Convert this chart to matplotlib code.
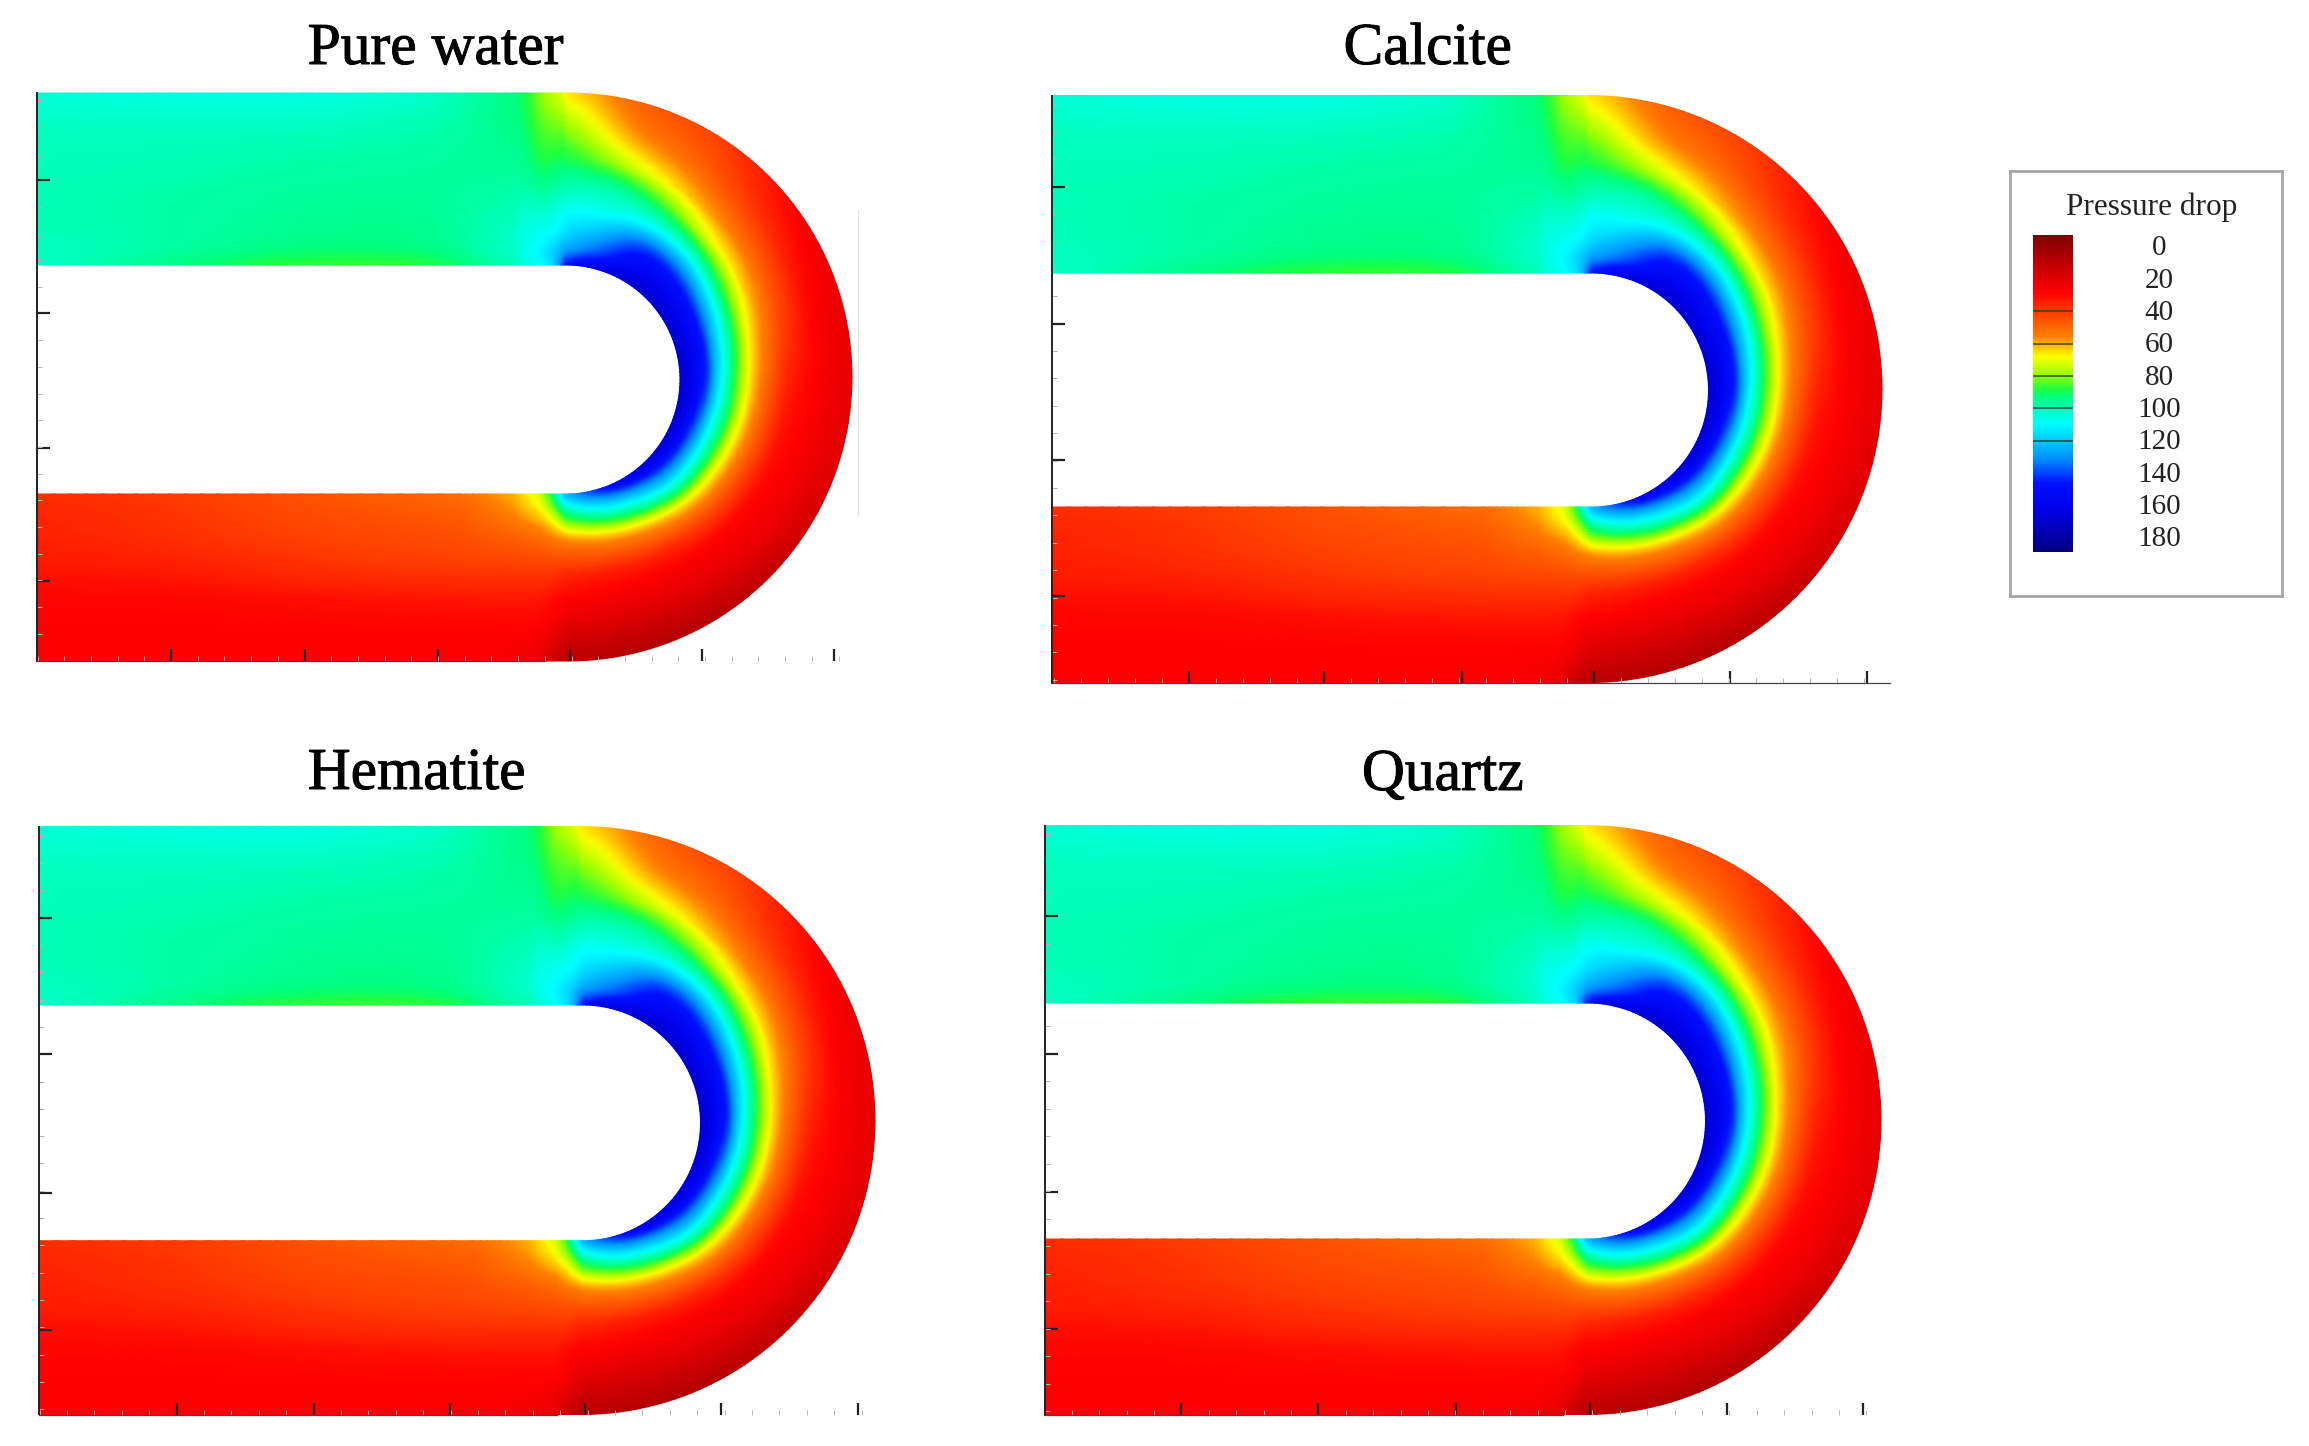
import numpy as np
import matplotlib
matplotlib.use("Agg")
import matplotlib.pyplot as plt
import matplotlib.patheffects as pe
from matplotlib.colors import LinearSegmentedColormap, Normalize
from matplotlib.ticker import AutoMinorLocator

W, H = 2309, 1446
plt.rcParams['font.family'] = ['Liberation Serif', 'DejaVu Serif']

# ---- values ----
panel_names = ["Pure water", "Calcite", "Hematite", "Quartz"]
legend_title = "Pressure drop"
legend_ticks = [0, 20, 40, 60, 80, 100, 120, 140, 160, 180]
legend_lines = [40, 60, 80, 100, 120]

# across-channel rows (0 inner wall, 1 outer wall)
rows_n = [0, .08, .16, .22, .28, .34, .42, .5, .62, .8, 1]
# stations along the channel: top leg (-1..0), bend (0..1), bottom leg (1..2)
top_frac = [0, .25, .5, .75, .9, .92, .95, .98]
bend_deg = [90, 75, 60, 45, 30, 15, 0, -15, -30, -45, -60, -75, -90]
bot_frac = [.975, .95, .9, .8, .5, .25, 0]

top_leg = [
    [103, 102, 101, 100, 100, 100, 100, 100, 100, 101, 104],
    [94, 97, 98, 98, 98, 98, 98, 99, 100, 101, 106],
    [85, 92, 94, 95, 95, 96, 96, 97, 98, 101, 106],
    [86, 92, 94, 94, 95, 95, 96, 96, 97, 99, 103],
    [101, 103, 103, 102, 101, 100, 98, 97, 95, 94, 92],
    [104, 106, 106, 105, 104, 102, 100, 97, 95, 92, 90],
    [107, 110, 108, 106, 104, 101, 97, 93, 88, 84, 78],
    [118, 120, 112, 108, 106, 103, 99, 95, 89, 82, 72],
]
bend = [
    [150, 128, 118, 113, 110, 108, 102, 97, 91, 82, 66],
    [165, 140, 130, 122, 113, 106, 102, 97, 76, 55, 46],
    [170, 158, 150, 143, 130, 112, 98, 85, 64, 50, 42],
    [170, 160, 152, 143, 128, 110, 90, 70, 55, 40, 32],
    [170, 158, 149, 134, 115, 98, 79, 64, 50, 33, 24],
    [170, 158, 146, 124, 105, 90, 68, 57, 43, 28, 22],
    [170, 158, 143, 115, 98, 82, 62, 50, 34, 27, 21],
    [170, 154, 132, 108, 95, 77, 59, 47, 31, 26, 20],
    [170, 151, 125, 105, 90, 72, 55, 44, 29, 25, 16],
    [168, 146, 122, 105, 88, 67, 52, 41, 28, 23, 10],
    [165, 132, 106, 92, 70, 57, 46, 35, 27, 20, 6],
    [146, 119, 97, 79, 62, 52, 42, 33, 27, 18, 6],
    [128, 103, 83, 68, 55, 49, 41, 34, 29, 20, 8],
]
bottom_leg = [
    [90, 80, 68, 60, 53, 48, 42, 38, 30, 26, 12],
    [72, 68, 60, 54, 50, 46, 42, 38, 33, 28, 22],
    [60, 57, 53, 50, 47, 45, 41, 38, 33, 28, 26],
    [51, 48, 46, 45, 44, 43, 41, 38, 33, 28, 27],
    [45, 44, 43, 42, 41, 40, 38, 36, 31, 28, 28],
    [40, 39, 38, 38, 37, 36, 34, 32, 29, 28, 28],
    [37, 36, 35, 35, 34, 34, 33, 31, 29, 28, 28],
]

# ---- colour scale ----
vmin, vmax = -7.2, 188.7
cmap_v = [-7.2, 28, 41, 55, 68, 78, 88, 93, 109, 131, 146, 162, 188.7]
cmap_c = ["#7f0000", "#ff0000", "#ff4000", "#ff8000", "#ffff00", "#a0ff00",
          "#20ff40", "#00ff80", "#00ffff", "#0090ff", "#0010ff", "#0000e8", "#00007f"]
norm = Normalize(vmin, vmax)
cmap = LinearSegmentedColormap.from_list(
    "pd", [(float(norm(v)), c) for v, c in zip(cmap_v, cmap_c)], N=512)

# ---- layout, in pixels of the figure ----
panels = [
    dict(L=37, A=858, T=93, B=661, it=265, ib=494, ir=680, R=852, xt=[171, 304.5, 437.5, 570, 701.5, 834], yt=[180, 313.5, 448, 581.5], full=False, guide=True),
    dict(L=1052, A=1890, T=95.5, B=682.6, it=273, ib=507, ir=1708.5, R=1882, xt=[1189, 1324, 1462, 1594, 1730, 1867], yt=[186.5, 323.5, 459.5, 595.5], full=True, guide=False),
    dict(L=39, A=867, T=826.6, B=1414.5, it=1005, ib=1240.7, ir=700.5, R=875, xt=[176.5, 313.5, 449.5, 584.5, 721, 858], yt=[917.8, 1054.3, 1192.8, 1330.5], full=False, guide=False),
    dict(L=1045, A=1872, T=825.6, B=1414.5, it=1003, ib=1239, ir=1705.5, R=1881, xt=[1181.5, 1318.5, 1456, 1590.5, 1727, 1863.5], yt=[916.3, 1053.8, 1191.8, 1328.5], full=False, guide=False),
]
title_pos = [(436, 50), (1428, 50), (417, 775), (1443, 776)]

stations = np.array([f - 1 for f in top_frac] + [(90 - d) / 180 for d in bend_deg] + [2 - f for f in bot_frac])
field = np.array(top_leg + bend + bottom_leg, float).T
n_arr = np.array(rows_n, float)


def refine(a, sub):
    i = np.arange(len(a))
    return np.linspace(0, len(a) - 1, (len(a) - 1) * sub + 1), i


def soften(a, width, axis):
    kernel = np.hanning(width + 2)[1:-1]
    kernel = kernel / kernel.sum()
    pad = width // 2
    def one(v):
        return np.convolve(np.pad(v, pad, mode='edge'), kernel, mode='valid')
    return np.apply_along_axis(one, axis, a)


def mesh(p):
    Ro = (p['B'] - p['T']) / 2
    cso = p['R'] - Ro
    ri = (p['ib'] - p['it']) / 2
    cxi = p['ir'] - ri
    cyi = (p['ib'] + p['it']) / 2
    cyo = (p['B'] + p['T']) / 2
    new_c, ic = refine(stations, 8)
    new_r, ir = refine(n_arr, 5)
    s = np.interp(new_c, ic, stations)
    n = np.interp(new_r, ir, n_arr)
    Z = np.array([np.interp(new_c, ic, row) for row in field])
    Z = np.array([np.interp(new_r, ir, col) for col in Z.T]).T
    Z = soften(soften(Z, 13, 1), 7, 0)
    X, Y = np.zeros(Z.shape), np.zeros(Z.shape)
    for j, sj in enumerate(s):
        if sj <= 0:
            xi = cxi + sj * (cxi - p['L']); xo = cso + sj * (cso - p['L'])
            yi, yo = p['it'], p['T']
        elif sj >= 1:
            xi = cxi - (sj - 1) * (cxi - p['L']); xo = cso - (sj - 1) * (cso - p['L'])
            yi, yo = p['ib'], p['B']
        else:
            th = np.pi / 2 - sj * np.pi
            xi, yi = cxi + ri * np.cos(th), cyi - ri * np.sin(th)
            xo, yo = cso + Ro * np.cos(th), cyo - Ro * np.sin(th)
        X[:, j] = xi + n * (xo - xi)
        Y[:, j] = yi + n * (yo - yi)
    return X, Y, Z


fig = plt.figure(figsize=(W / 100, H / 100), dpi=100, facecolor='white')
for p, name, tp in zip(panels, panel_names, title_pos):
    ax = fig.add_axes([p['L'] / W, 1 - p['B'] / H, (p['A'] - p['L']) / W, (p['B'] - p['T']) / H])
    ax.patch.set_alpha(0)
    X, Y, Z = mesh(p)
    ax.pcolormesh(X, Y, Z, shading='gouraud', cmap=cmap, norm=norm, clip_on=False)
    ax.set_xlim(p['L'], p['A'])
    ax.set_ylim(p['B'], p['T'])
    ax.set_xticks(p['xt']); ax.set_yticks(p['yt'])
    ax.xaxis.set_minor_locator(AutoMinorLocator(5))
    ax.yaxis.set_minor_locator(AutoMinorLocator(5))
    ax.tick_params(which='major', direction='in', length=9, width=1.6, color='#222222', labelbottom=False, labelleft=False)
    ax.tick_params(which='minor', direction='in', length=3.5, width=.7, color='#b5b5b5')
    ax.spines['top'].set_visible(False)
    ax.spines['right'].set_visible(False)
    ax.spines['left'].set_color('#222222'); ax.spines['left'].set_linewidth(1.4)
    ax.spines['bottom'].set_color('#444444'); ax.spines['bottom'].set_linewidth(.9)
    if not p['full']:
        ax.spines['bottom'].set_bounds(p['L'], (p['L'] + p['R']) / 2 + 100)
    if p['guide']:
        ax.spines['right'].set_visible(True)
        ax.spines['right'].set_color('#e4e4e4')
        ax.spines['right'].set_bounds(515, 210)
    fig.text(tp[0] / W, 1 - tp[1] / H, name, fontsize=42.8, ha='center', va='center', color='black',
             path_effects=[pe.withStroke(linewidth=.7, foreground='black')])

# legend box
box = fig.add_axes([2010 / W, 1 - 596 / H, 272 / W, 425 / H])
box.set_xticks([]); box.set_yticks([])
for sp in box.spines.values():
    sp.set_color('#a6a6a6'); sp.set_linewidth(2)
cax = fig.add_axes([2033 / W, 1 - 551.7 / H, 40 / W, 316.7 / H])
vals = np.linspace(vmin, vmax, 400)
cax.pcolormesh([0, 1], vals, vals[:-1, None], cmap=cmap, norm=norm)
cax.set_ylim(vmax, vmin)
cax.set_xticks([])
cax.set_yticks([])
label_drop = fig.dpi_scale_trans + matplotlib.transforms.Affine2D().translate(0, 0)
for v in legend_ticks:
    cax.annotate(str(v), xy=(3.15, v), xycoords=cax.get_yaxis_transform(), xytext=(0, -1.2),
                 textcoords='offset points', ha='center', va='center', fontsize=21, color='#222222',
                 annotation_clip=False)
cax.hlines(legend_lines, 0, 1, color='#303030', lw=1.3, alpha=.75)
for sp in cax.spines.values():
    sp.set_visible(False)
box.text(.522, .915, legend_title, transform=box.transAxes, ha='center', va='center', fontsize=22.5, color='#222222')

fig.savefig('out.png', dpi=100, facecolor='white')
